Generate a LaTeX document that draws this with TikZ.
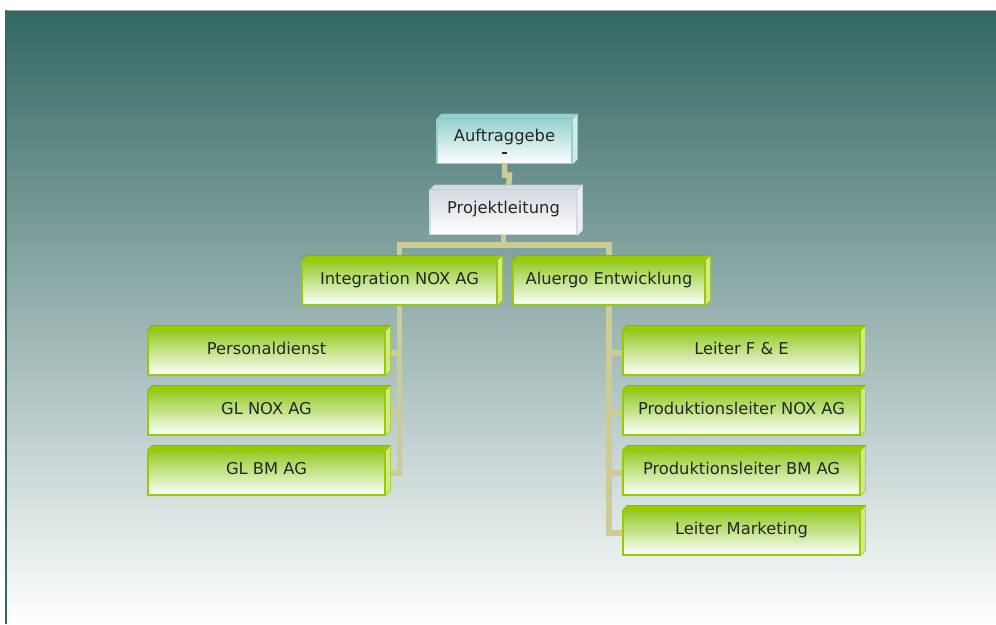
\documentclass[tikz,border=0pt]{standalone}
\usepackage{fontspec}
\setmainfont{DejaVu Sans}
\usepackage{xcolor}
\usetikzlibrary{positioning,calc,backgrounds}
\definecolor{panelTop}{RGB}{50,103,98}
\definecolor{panelMid}{RGB}{182,190,193}
\definecolor{leaf}{RGB}{153,204,0}
\definecolor{leafTop}{RGB}{148,203,40}
\definecolor{aqua}{RGB}{150,210,205}
\definecolor{mist}{RGB}{212,219,225}
\definecolor{khaki}{RGB}{205,203,150}
\pgfdeclarelayer{panel}
\pgfsetlayers{panel,background,main}

\begin{document}
\begin{tikzpicture}[x=1pt,y=-1pt,font=\fontsize{16.3}{18}\selectfont]
\tikzset{faces/.style={append after command={\pgfextra{
    \fill[#1,draw=#1!80!black,line width=0.5pt] (\tikzlastnode.north west) -- ++(5,-5) -- ([shift={(5,-5)}]\tikzlastnode.north east) -- (\tikzlastnode.north east) -- cycle;
    \fill[#1!45!white,draw=#1,line width=0.5pt] (\tikzlastnode.north east) -- ++(5,-5) -- ([shift={(5,-5)}]\tikzlastnode.south east) -- (\tikzlastnode.south east) -- cycle;}}},
  card/.style={line width=1.2pt,inner sep=0pt,minimum height=44pt,text=black!85},
  box/.style={card,draw=leaf,top color=leafTop,middle color=leafTop!35!white,bottom color=white,
    text height=12pt,text depth=10pt,faces=leaf},
  tealbox/.style={card,draw=aqua,top color=aqua,middle color=aqua!45!white,bottom color=white,align=center,faces=aqua},
  graybox/.style={card,draw=mist,top color=mist,bottom color=white,text height=12pt,text depth=10pt,faces=mist},
  link/.style={draw=khaki,line width=5.5pt}}
\useasboundingbox (0,0) rectangle (996,624);
% backdrop
\begin{pgfonlayer}{panel}
\fill[top color=panelTop,middle color=panelMid,bottom color=white] (5,10) rectangle (996,624);
\draw[gray!70,line width=0.8pt] (5,10) -- (996,10);
\draw[panelTop,line width=2pt] (6,10) -- (6,624);
\end{pgfonlayer}
% top of the chart
\node[tealbox,minimum width=135pt] (auf) at (504.5,141.5) {Auftraggebe\\[-5pt]\rule{5pt}{2.2pt}};
\node[graybox,minimum width=147pt] (proj) at (503.5,212.5) {Projektleitung};
\node[box,minimum width=195pt] (integ) at (399.5,283) {Integration NOX AG};
\node[box,minimum width=192pt] (alu) at (609,283) {Aluergo Entwicklung};
% left branch
\node[box,minimum width=237pt] (pers) at (266.5,353) {Personaldienst};
\node[box,minimum width=237pt] (glnox) at (266.5,413) {GL NOX AG};
\node[box,minimum width=237pt] (glbm) at (266.5,473) {GL BM AG};
% right branch
\node[box,minimum width=237pt] (lfe) at (741.5,353) {Leiter F \& E};
\node[box,minimum width=237pt] (pnox) at (741.5,413) {Produktionsleiter NOX AG};
\node[box,minimum width=237pt] (pbm) at (741.5,473) {Produktionsleiter BM AG};
\node[box,minimum width=237pt] (lmkt) at (741.5,533) {Leiter Marketing};
\begin{scope}[on background layer]
\draw[link] (auf.south) -- ++(0,11) -- ++(5,0) -- ([xshift=5pt]proj.north);
\draw[link] (proj.south) -- ++(0,10) -| (integ.north);
\draw[link] (proj.south) -- ++(0,10) -| (alu.north);
\foreach \n in {pers,glnox,glbm} \draw[link] (integ.south) |- ([xshift=3pt]\n.east);
\foreach \n in {lfe,pnox,pbm,lmkt} \draw[link] (alu.south) |- (\n.west);
\end{scope}
\end{tikzpicture}
\end{document}
